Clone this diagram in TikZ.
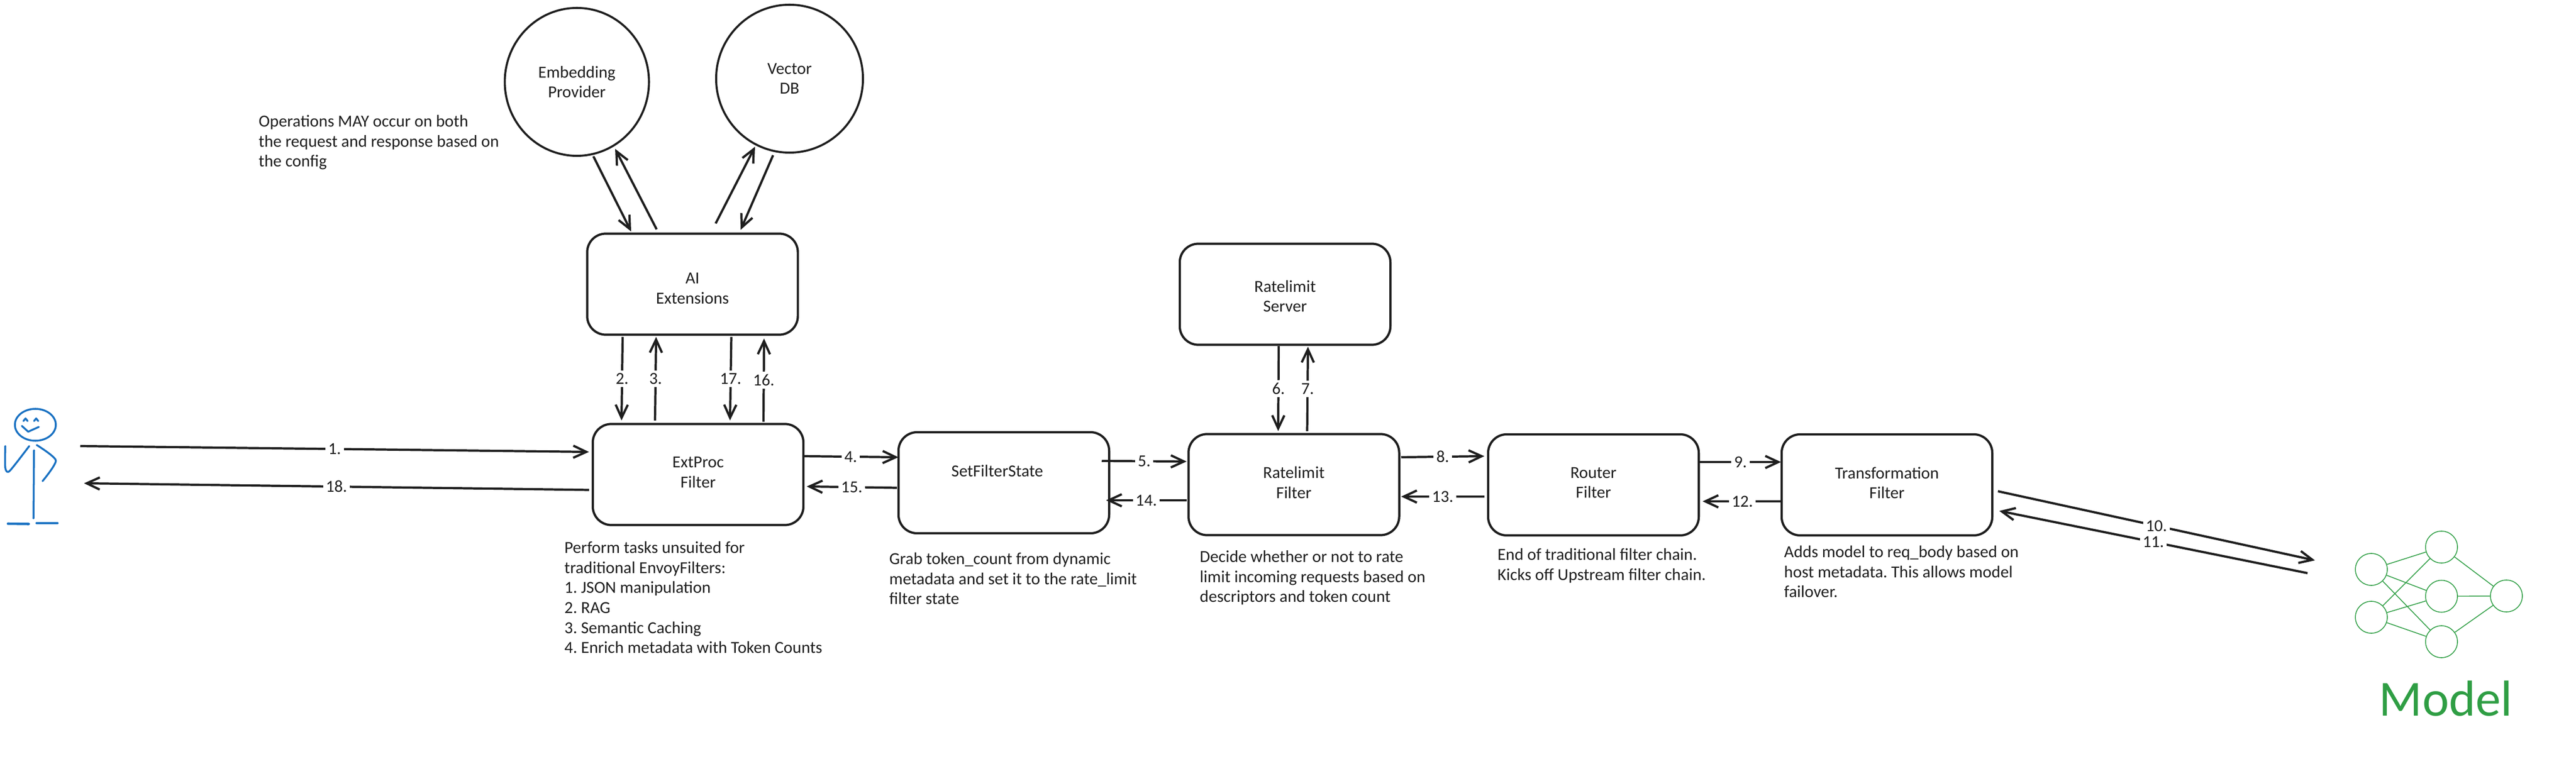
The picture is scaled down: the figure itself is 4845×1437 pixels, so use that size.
\documentclass[tikz,border=0pt]{standalone}
\usepackage{fontspec}
\setmainfont{Carlito}
\usetikzlibrary{arrows.meta,shapes.geometric}
\definecolor{inkdark}{HTML}{1E1E1E}
\definecolor{netgreen}{HTML}{2F9E44}
\definecolor{stickblue}{HTML}{1971C2}
\tikzset{
  every node/.style={text=inkdark, font=\fontsize{9}{10.7}\selectfont\frenchspacing, align=center},
  filterbox/.style={draw=inkdark, line width=1.2pt, rectangle, rounded corners=.35cm,
    minimum width=3.96cm, minimum height=1.9cm},
  labelup/.style={text depth=2.3pt},
  extcircle/.style={draw=inkdark, line width=1.1pt, ellipse, inner sep=0pt},
  flow/.style={draw=inkdark, line width=1.2pt, -{Straight Barb[length=7pt,width=6.5pt]}},
  steplabel/.style={fill=white, inner sep=1.5pt, midway},
  note/.style={anchor=north west, align=left, inner sep=0pt},
  neuron/.style={draw=netgreen, line width=.45pt, circle, minimum size=.6cm, inner sep=0pt},
  synapse/.style={draw=netgreen, line width=.45pt},
  stick/.style={draw=stickblue, line width=1pt, line cap=round, line join=round},
}
\begin{document}
\begin{tikzpicture}[x=0.01cm, y=-0.01cm]
  \useasboundingbox (0,0) rectangle (4845,1437);

  % filters and services
  \node[extcircle, minimum width=2.71cm, minimum height=2.78cm] (embedding) at (1085, 154) {Embedding\\Provider};
  \node[extcircle, minimum width=2.76cm, minimum height=2.78cm] (vectordb) at (1485, 148) {Vector\\DB};
  \node[filterbox, text height=21pt] (aiext) at (1302.5, 534.5) {AI\\Extensions};
  \node[filterbox, labelup] (extproc) at (1313, 892.5) {ExtProc\\Filter};
  \node[filterbox, text depth=13pt] (setfilter) at (1888, 908) {SetFilterState\hspace*{7pt}};
  \node[filterbox, text height=19pt] (rlserver) at (2417, 553.5) {Ratelimit\\Server};
  \node[filterbox, labelup] (rlfilter) at (2433.5, 911.5) {Ratelimit\\Filter};
  \node[filterbox, labelup] (router) at (2997, 912) {Router\\Filter};
  \node[filterbox, labelup] (transform) at (3549, 912) {Transformation\\Filter};

  % free ends
  \coordinate (userin) at (151, 839);
  \coordinate (userout) at (158, 909);
  \coordinate (modelin) at (4354, 1054);
  \coordinate (modelout) at (4340, 1078);

  % request and response
  \draw[flow] (userin) -- node[steplabel] {1.} ([shift={(-5,-42.5)}]extproc.west);
  \draw[flow] ([shift={(-5,29)}]extproc.west) -- node[steplabel] {18.} (userout);
  \draw[flow] ([shift={(-131.5,2)}]aiext.south) -- node[steplabel] {2.} ([shift={(-144,-4.5)}]extproc.north);
  \draw[flow] ([shift={(-81,-4.5)}]extproc.north) -- node[steplabel] {3.} ([shift={(-68.5,2)}]aiext.south);
  \draw[flow] ([shift={(73,2)}]aiext.south) -- node[steplabel] {17.} ([shift={(60,-4.5)}]extproc.north);
  \draw[flow] ([shift={(123,-2)}]extproc.north) -- node[steplabel] {16.} ([shift={(134.5,5)}]aiext.south);

  \draw[flow] ([shift={(31,-1)}]embedding.south) -- ([shift={(-115.5,-2)}]aiext.north);
  \draw[flow] ([shift={(-67.5,-6)}]aiext.north) -- ([shift={(72,-15)}]embedding.south);
  \draw[flow] ([shift={(43.5,-17)}]aiext.north) -- ([shift={(-65,-13)}]vectordb.south);
  \draw[flow] ([shift={(-31,3)}]vectordb.south) -- ([shift={(90.5,-5)}]aiext.north);

  \draw[flow] ([shift={(-3,-34.5)}]extproc.east) -- node[steplabel] {4.} ([shift={(2,-48)}]setfilter.west);
  \draw[flow] ([shift={(-1,9.5)}]setfilter.west) -- node[steplabel] {15.} ([shift={(4,22.5)}]extproc.east);
  \draw[flow] ([shift={(-16,-41)}]setfilter.east) -- node[steplabel] {5.} ([shift={(-1.5,-43.5)}]rlfilter.west);
  \draw[flow] ([shift={(-1.5,29.5)}]rlfilter.west) -- node[steplabel] {14.} ([shift={(-8,33)}]setfilter.east);
  \draw[flow] ([shift={(-12,.5)}]rlserver.south) -- node[steplabel] {6.} ([shift={(-29.5,-3.5)}]rlfilter.north);
  \draw[flow] ([shift={(25,-3.5)}]rlfilter.north) -- node[steplabel] {7.} ([shift={(43,1.5)}]rlserver.south);
  \draw[flow] ([shift={(1.5,-51.5)}]rlfilter.east) -- node[steplabel] {8.} ([shift={(-5,-54)}]router.west);
  \draw[flow] ([shift={(-5,22)}]router.west) -- node[steplabel] {13.} ([shift={(1.5,22.5)}]rlfilter.east);
  \draw[flow] ([shift={(0,-43)}]router.east) -- node[steplabel] {9.} ([shift={(1,-43)}]transform.west);
  \draw[flow] ([shift={(3,31)}]transform.west) -- node[steplabel] {12.} ([shift={(5,31)}]router.east);
  \draw[flow] ([shift={(8.5,12)}]transform.east) -- node[steplabel] {10.} (modelin);
  \draw[flow] (modelout) -- node[steplabel] {11.} ([shift={(11,49)}]transform.east);

  % notes
  \node[note] (opsnote) at (486, 216) {Operations MAY occur on both\\the request and response based on\\the config};
  \node[note] (extnote) at (1061, 1018) {Perform tasks unsuited for\\traditional EnvoyFilters:\\1. JSON manipulation\\2. RAG\\3. Semantic Caching\\4. Enrich metadata with Token Counts};
  \node[note] (setnote) at (1672, 1039) {Grab token\_count from dynamic\\metadata and set it to the rate\_limit\\filter state};
  \node[note] (rlnote) at (2256, 1035) {Decide whether or not to rate\\limit incoming requests based on\\descriptors and token count};
  \node[note] (routernote) at (2816, 1031) {End of traditional filter chain.\\Kicks off Upstream filter chain.};
  \node[note] (transnote) at (3355, 1026) {Adds model to req\_body based on\\host metadata. This allows model\\failover.};

  % model network
  \node[neuron] (in1) at (4460, 1071) {};
  \node[neuron] (in2) at (4460, 1161) {};
  \node[neuron] (mid1) at (4592, 1029) {};
  \node[neuron] (mid2) at (4592, 1121.5) {};
  \node[neuron] (mid3) at (4592, 1207) {};
  \node[neuron] (out1) at (4714, 1121) {};
  \draw[synapse] (in1) -- (mid1);
  \draw[synapse] (in1) -- (mid2);
  \draw[synapse] (in1) -- (mid3);
  \draw[synapse] (in2) -- (mid1);
  \draw[synapse] (in2) -- (mid2);
  \draw[synapse] (in2) -- (mid3);
  \draw[synapse] (mid1) -- (out1);
  \draw[synapse] (mid2) -- (out1);
  \draw[synapse] (mid3) -- (out1);
  \node[text=netgreen, font=\fontsize{27}{30}\selectfont] (modelname) at (4600, 1314) {Model};

  % stick figure
  \draw[stick] (66.5, 799) ellipse [x radius=38.5, y radius=30];
  \draw[stick] (44, 792) -- (48, 787) -- (52, 792);
  \draw[stick] (64, 792) -- (68, 787) -- (72, 792);
  \draw[stick] (41, 801) -- (53, 812) -- (73, 803);
  \draw[stick] (64, 847) -- (63, 975);
  \draw[stick] plot[smooth, tension=.4] coordinates {(55, 839) (18, 886) (10, 880) (10, 839)};
  \draw[stick] plot[smooth, tension=.4] coordinates {(69, 837) (105, 866) (80, 905)};
  \draw[stick, line width=1.3pt] (15, 985) -- (54, 985.5);
  \draw[stick, line width=1.3pt] (69, 984) -- (108, 984);
\end{tikzpicture}
\end{document}
